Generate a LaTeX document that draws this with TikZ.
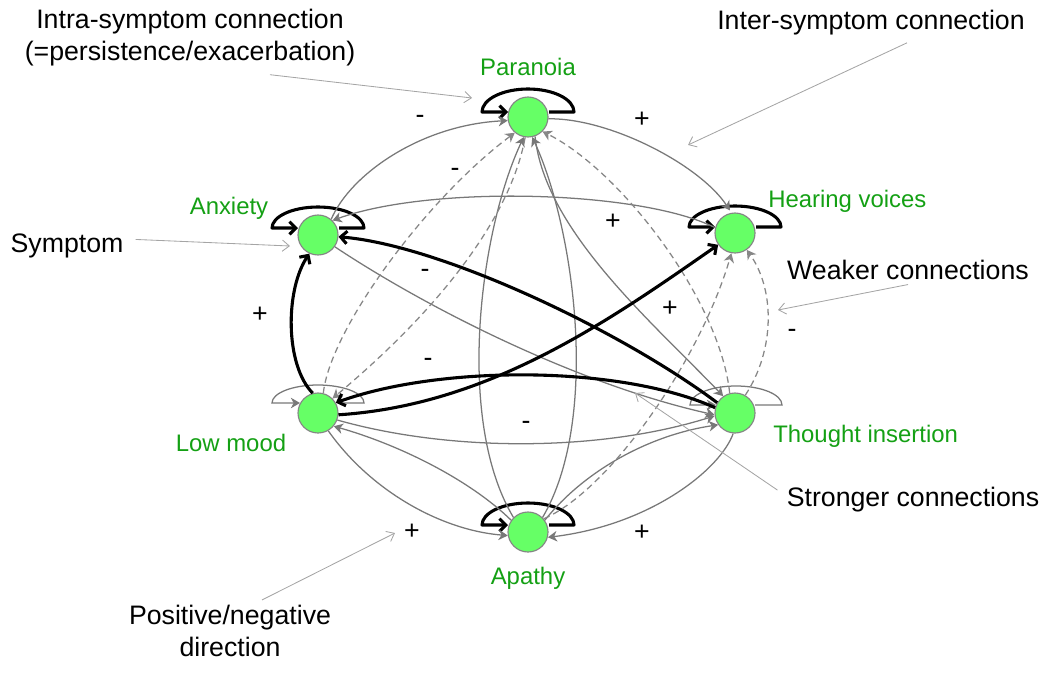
\documentclass[tikz,border=0pt]{standalone}
\usepackage{fontspec}
\setmainfont{Liberation Sans}
\usetikzlibrary{positioning,calc,arrows.meta}
\definecolor{symgreen}{RGB}{102,255,102}
\definecolor{lblgreen}{RGB}{20,160,20}
\definecolor{edgegray}{RGB}{120,120,120}
\definecolor{dashgray}{RGB}{135,135,135}
\definecolor{ptrgray}{RGB}{165,165,165}

\begin{document}
\begin{tikzpicture}[x=0.025cm,y=-0.025cm]
\tikzstyle{symptom} = [circle, fill=symgreen, draw=edgegray!90, line width=0.8pt, minimum size=1cm, inner sep=0pt];
\tikzstyle{symname} = [text=lblgreen, font=\fontsize{17}{21}\selectfont, anchor=base, inner sep=0pt];
\tikzstyle{note} = [font=\fontsize{19}{22.7}\selectfont, align=center, inner sep=0pt];
\tikzstyle{sign} = [font=\fontsize{19}{23}\selectfont];
\tikzstyle{weak} = [edgegray, line width=0.9pt, -{Stealth[length=6.5pt,width=7.5pt,inset=2pt]}];
\tikzstyle{faint} = [dashgray, line width=0.9pt, dash pattern=on 4.5pt off 3pt, -{Stealth[length=6.5pt,width=7.5pt,inset=2pt]}];
\tikzstyle{strong} = [black, line width=2.2pt, line join=round, -{Straight Barb[length=4.5pt,width=9pt]}];
\tikzstyle{pointer} = [ptrgray, line width=0.6pt, -{Straight Barb[length=5pt,width=8pt]}];

\useasboundingbox (0,0) rectangle (1046,691);

% symptoms
\node[symptom] (par) at (528,117) {};
\node[symptom] (anx) at (318,235) {};
\node[symptom] (hv) at (735,233) {};
\node[symptom] (lm) at (318,413) {};
\node[symptom] (ti) at (735,413) {};
\node[symptom] (apa) at (528,532) {};

\node[symname] (par-name) at (528,75) {Paranoia};
\node[symname] (anx-name) at (229,214) {Anxiety};
\node[symname, anchor=base west] (hv-name) at (768,207) {Hearing voices};
\node[symname] (lm-name) at (231,451) {Low mood};
\node[symname, anchor=base west] (ti-name) at (773,442) {Thought insertion};
\node[symname] (apa-name) at (528,584) {Apathy};

% intra-symptom loops
\draw[strong] ($(par)+(21,-5)$) -- ++(25,0) arc[start angle=0, end angle=-180, x radius=46, y radius=23] -- ($(par)+(-20,-5)$);
\draw[strong] ($(anx)+(21,-7)$) -- ++(25,0) arc[start angle=0, end angle=-180, x radius=46, y radius=21] -- ($(anx)+(-20,-7)$);
\draw[strong] ($(hv)+(21,-6)$) -- ++(25,0) arc[start angle=0, end angle=-180, x radius=46, y radius=21] -- ($(hv)+(-20,-6)$);
\draw[strong] ($(apa)+(21,-7)$) -- ++(25,0) arc[start angle=0, end angle=-180, x radius=46, y radius=22] -- ($(apa)+(-20,-7)$);
\draw[weak] ($(lm)+(20,-10)$) -- ++(26,0) arc[start angle=0, end angle=-180, x radius=46, y radius=18] -- ($(lm)+(-18,-10)$);
\draw[weak] ($(ti)+(20,-8)$) -- ++(27,0) arc[start angle=0, end angle=-180, x radius=46, y radius=19] -- ($(ti)+(-19,-8)$);

% inter-symptom, solid
\draw[weak] (anx.50) .. controls (350,175) and (420,125) .. (par.190);
\draw[weak, shorten >=2pt] (par.355) .. controls (610,118) and (700,165) .. (hv.100);
\draw[weak] (hv.165) .. controls (640,190) and (430,185) .. (anx.45);
\draw[weak] (apa.135) .. controls (455,420) and (480,230) .. (par.258);
\draw[weak] (apa.45) .. controls (600,420) and (575,230) .. (par.282);
\draw[weak] (par.290) .. controls (545,230) and (650,320) .. (ti.125);
\draw[weak] (anx.325) .. controls (430,310) and (580,385) .. (ti.185);
\draw[weak] (lm.340) .. controls (450,452) and (600,452) .. (ti.188);
\draw[weak] (apa.145) .. controls (470,480) and (400,445) .. (lm.320);
\draw[weak] (lm.300) .. controls (370,490) and (440,530) .. (apa.190);
\draw[weak] (ti.265) .. controls (720,470) and (650,525) .. (apa.345);
\draw[weak] (apa.35) .. controls (585,470) and (650,435) .. (ti.215);

% weaker, dashed
\draw[faint] (lm.75) .. controls (330,330) and (425,200) .. (par.230);
\draw[faint] (par.262) .. controls (512,210) and (450,300) .. (lm.45);
\draw[faint] (ti.105) .. controls (720,300) and (620,170) .. (par.315);
\draw[faint] (ti.60) .. controls (775,350) and (775,290) .. (hv.305);
\draw[faint] (apa.40) .. controls (610,490) and (700,360) .. (hv.260);

% stronger, thick
\draw[strong] (ti.150) .. controls (620,330) and (440,245) .. (anx.355);
\draw[strong] (lm.355) .. controls (490,405) and (610,320) .. (hv.215);
\draw[strong] (ti.165) .. controls (620,365) and (440,365) .. (lm.30);
\draw[strong] (lm.105) .. controls (285,365) and (285,290) .. (anx.245);

% signs
\node[sign] (s1) at (420,119) {-};
\node[sign] (s2) at (642,120) {+};
\node[sign] (s3) at (455,172) {-};
\node[sign] (s4) at (613,222) {+};
\node[sign] (s5) at (670,309) {+};
\node[sign] (s6) at (260,315) {+};
\node[sign] (s7) at (425,273) {-};
\node[sign] (s8) at (428,362) {-};
\node[sign] (s9) at (526,425) {-};
\node[sign] (s10) at (792,333) {-};
\node[sign] (s11) at (412,532) {+};
\node[sign] (s12) at (642,533) {+};

% annotations
\node[note] (intra) at (190,38) {Intra-symptom connection\\(=persistence/exacerbation)};
\node[note, anchor=base] (inter) at (871,29) {Inter-symptom connection};
\node[note, anchor=base] (symlbl) at (67,252) {Symptom};
\node[note, anchor=base] (weaker) at (908,279) {Weaker connections};
\node[note, anchor=base] (stronger) at (913,506) {Stronger connections};
\node[note] (posneg) at (230,631) {Positive/negative\\direction};

\coordinate (intra-tip) at (472,98);
\coordinate (inter-tip) at (688,145);
\coordinate (symlbl-tip) at (290,246);
\coordinate (weaker-tip) at (778,310);
\coordinate (stronger-tip) at (635,393);
\coordinate (posneg-tip) at (395,533);

\draw[pointer] ($(intra.south)+(80,8)$) -- (intra-tip);
\draw[pointer] ($(inter.south)+(36,8)$) -- (inter-tip);
\draw[pointer] ($(symlbl.east)+(12,-6)$) -- (symlbl-tip);
\draw[pointer] ($(weaker.south)+(0,5)$) -- (weaker-tip);
\draw[pointer] ($(stronger.west)+(-9,-9)$) -- (stronger-tip);
\draw[pointer] ($(posneg.north)+(32,-5)$) -- (posneg-tip);
\end{tikzpicture}
\end{document}
